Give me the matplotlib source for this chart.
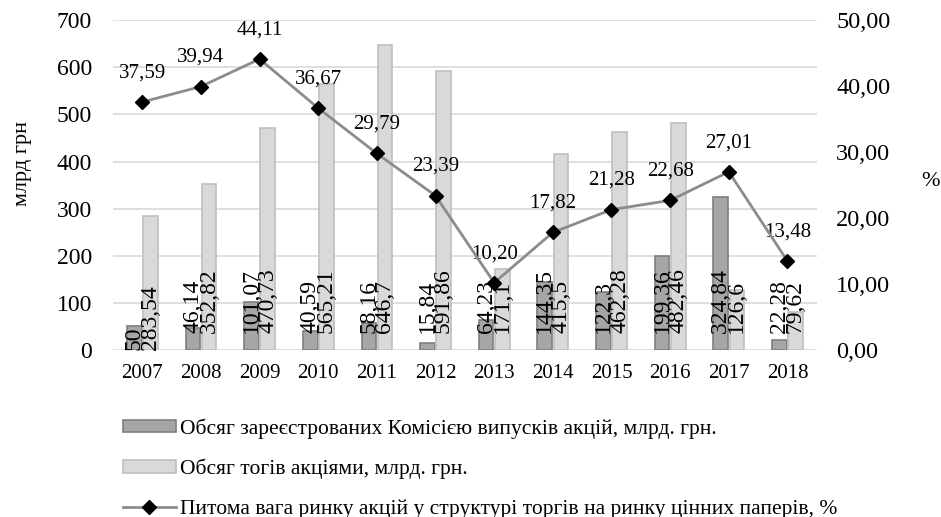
import matplotlib.pyplot as plt
import numpy as np

plt.rcParams['font.family'] = ['Liberation Serif', 'DejaVu Serif']

years = ['2007', '2008', '2009', '2010', '2011', '2012',
         '2013', '2014', '2015', '2016', '2017', '2018']
registered = [50, 46.14, 101.07, 40.59, 58.16, 15.84,
              64.23, 144.35, 122.3, 199.36, 324.84, 22.28]
traded = [283.54, 352.82, 470.73, 565.21, 646.7, 591.86,
          171.1, 415.5, 462.28, 482.46, 126.6, 79.62]
share = [37.59, 39.94, 44.11, 36.67, 29.79, 23.39,
         10.20, 17.82, 21.28, 22.68, 27.01, 13.48]

name_reg = 'Обсяг зареєстрованих Комісією випусків акцій, млрд. грн.'
name_trd = 'Обсяг тогів акціями, млрд. грн.'
name_share = 'Питома вага ринку акцій у структурі торгів на ринку цінних паперів, %'

def fmt(v):
    # excel style: comma decimal, drop trailing zeros
    s = ('%.2f' % v).rstrip('0').rstrip('.')
    return s.replace('.', ',')

fig = plt.figure(figsize=(9.41, 5.17), dpi=100)
ax = fig.add_axes([0.120, 0.323, 0.748, 0.638])
ax2 = ax.twinx()

x = np.arange(len(years))
w = 0.25
b1 = ax.bar(x - 0.137, registered, w, color='#a6a6a6', edgecolor='#7f7f7f', linewidth=1.2,
            label=name_reg, zorder=2)
b2 = ax.bar(x + 0.137, traded, w, color='#d9d9d9', edgecolor='#bfbfbf', linewidth=1.2,
            label=name_trd, zorder=2)

for i in range(len(years)):
    base = 0 if i == 0 else 36
    ax.text(x[i] - 0.137, base, fmt(registered[i]), rotation=90, ha='center', va='bottom',
            fontsize=17, zorder=5)
    ax.text(x[i] + 0.137, base, fmt(traded[i]), rotation=90, ha='center', va='bottom',
            fontsize=17, zorder=5)

ax.set_ylim(0, 700)
ax.set_yticks(range(0, 701, 100))
ax.set_xlim(-0.5, len(years) - 0.5)
ax.set_xticks(x)
ax.set_xticklabels(years)
ax.yaxis.grid(True, color='#d9d9d9', linewidth=1.2)
ax.set_axisbelow(True)
for sp in ax.spines.values():
    sp.set_visible(False)
ax.tick_params(length=0, labelsize=15, pad=10)
ax.tick_params(axis='y', labelsize=17, pad=15)
ax.set_ylabel('млрд грн', fontsize=16)
ax.yaxis.set_label_coords(-0.115, 0.565)

ln, = ax2.plot(x, share, color='#8c8c8c', linewidth=2, marker='D', markersize=7,
               markerfacecolor='black', markeredgecolor='black', label=name_share, zorder=4)
for i in range(len(years)):
    ax2.annotate(('%.2f' % share[i]).replace('.', ','), (x[i], share[i]), xytext=(0, 21),
                 textcoords='offset points', ha='center', va='center', fontsize=15)
ax2.set_ylim(0, 50)
ax2.set_yticks(range(0, 51, 10))
ax2.set_yticklabels([('%.2f' % t).replace('.', ',') for t in range(0, 51, 10)])
for sp in ax2.spines.values():
    sp.set_visible(False)
ax2.tick_params(length=0, labelsize=17.5, pad=14)
fig.text(931 / 941, 1 - 182 / 517, '%', fontsize=16, ha='center', va='center')

fig.legend([b1, b2, ln], [name_reg, name_trd, name_share], loc='upper left',
           bbox_to_anchor=(0.1307, 0.191), frameon=False, fontsize=15.5, handlelength=2.46,
           handleheight=0.5, handletextpad=0.2, labelspacing=0.93, borderaxespad=0,
           borderpad=0)

fig.savefig('out.png', dpi=100)
